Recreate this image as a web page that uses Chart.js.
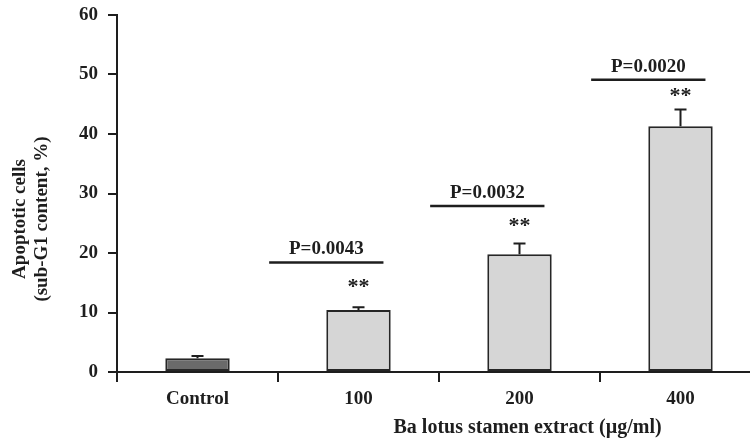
<!DOCTYPE html>
<html>
<head>
<meta charset="utf-8">
<script src="https://cdn.jsdelivr.net/npm/chart.js@4/dist/chart.umd.min.js"></script>
<style>
  html, body { margin: 0; padding: 0; background: #fff; overflow: hidden; }
  #wrap { position: relative; width: 770px; height: 444px; }
</style>
</head>
<body>
<div id="wrap"><canvas id="chart1"></canvas></div>
<script>
// data
const categories = ['Control', '100', '200', '400'];
const apoptotic = [2.3, 10.4, 19.8, 41.3];
const errors = [0.4, 0.5, 1.8, 2.8];
const pLabels = [null, 'P=0.0043', 'P=0.0032', 'P=0.0020'];
const pLineLevels = [null, 18.4, 27.9, 49.1];
const stars = [null, '**', '**', '**'];
const yTicks = [0, 10, 20, 30, 40, 50, 60];

const yTitle = ['Apoptotic cells', '(sub-G1 content, %)'];
const xTitle = 'Ba lotus stamen extract (\u00b5g/ml)';

const FONT = '"Liberation Serif", "Times New Roman", serif';
const INK = '#1e1e1e';

// error bars, P brackets, stars and axis titles
const extras = {
    id: 'extras',
    afterDatasetsDraw(chart) {
        const ctx = chart.ctx;
        const x = chart.scales.x;
        const y = chart.scales.y;
        ctx.save();
        ctx.strokeStyle = INK;
        ctx.fillStyle = INK;
        ctx.lineWidth = 2;

        apoptotic.forEach((v, i) => {
            const cx = x.getPixelForValue(i);
            const top = y.getPixelForValue(v + errors[i]);
            ctx.beginPath();
            ctx.moveTo(cx, y.getPixelForValue(v));
            ctx.lineTo(cx, top);
            ctx.moveTo(cx - 6, top);
            ctx.lineTo(cx + 6, top);
            ctx.stroke();

            if (pLabels[i]) {
                const ly = y.getPixelForValue(pLineLevels[i]);
                const x0 = x.getPixelForValue(i - 0.555);
                const x1 = x.getPixelForValue(i + 0.155);
                ctx.lineWidth = 2.5;
                ctx.beginPath();
                ctx.moveTo(x0, ly);
                ctx.lineTo(x1, ly);
                ctx.stroke();
                ctx.lineWidth = 2;
                ctx.font = 'bold 19px ' + FONT;
                ctx.textAlign = 'center';
                ctx.textBaseline = 'middle';
                ctx.fillText(pLabels[i], (x0 + x1) / 2, ly - 13);

                ctx.font = 'bold 22px ' + FONT;
                ctx.fillText(stars[i], cx, (ly + top) / 2 + 2);
            }
        });

        // y title, two lines
        ctx.font = 'bold 19px ' + FONT;
        ctx.textAlign = 'center';
        ctx.textBaseline = 'middle';
        ctx.save();
        ctx.translate(20, 219);
        ctx.rotate(-Math.PI / 2);
        ctx.fillText(yTitle[0], 0, 0);
        ctx.fillText(yTitle[1], 0, 22);
        ctx.restore();

        // x title
        ctx.font = 'bold 20px ' + FONT;
        ctx.fillText(xTitle, x.getPixelForValue(2.05), 428);
        ctx.restore();
    }
};

const ctx1 = document.getElementById('chart1').getContext('2d');
const chart1 = new Chart(ctx1, {
    type: 'bar',
    data: {
        labels: categories,
        datasets: [{
            data: apoptotic,
            backgroundColor: ['#6a6a6a', '#d6d6d6', '#d6d6d6', '#d6d6d6'],
            borderColor: '#262626',
            borderWidth: 2,
            borderSkipped: false,
            barPercentage: 0.4,
            categoryPercentage: 1.0
        }]
    },
    options: {
        responsive: true,
        maintainAspectRatio: false,
        animation: false,
        layout: { padding: { left: 0, right: 9, top: 15, bottom: 0 } },
        plugins: {
            legend: { display: false },
            tooltip: { enabled: false }
        },
        scales: {
            x: {
                grid: { drawOnChartArea: false, tickLength: 10, color: INK, lineWidth: 2, offset: true },
                border: { color: INK, width: 2 },
                ticks: { color: INK, padding: 6, font: { family: FONT, size: 19, weight: 'bold' } },
                afterFit(scale) { scale.height = 72; scale.paddingLeft = 0; scale.paddingRight = 0; }
            },
            y: {
                min: 0,
                max: 60,
                afterBuildTicks(scale) { scale.ticks = yTicks.map(v => ({ value: v })); },
                grid: { drawOnChartArea: false, tickLength: 9, color: INK, lineWidth: 2 },
                border: { color: INK, width: 2 },
                ticks: { color: INK, padding: 10, font: { family: FONT, size: 19, weight: 'bold' } },
                afterFit(scale) { scale.width = 117; scale.paddingTop = 0; scale.paddingBottom = 0; }
            }
        }
    },
    plugins: [extras]
});
</script>
</body>
</html>
